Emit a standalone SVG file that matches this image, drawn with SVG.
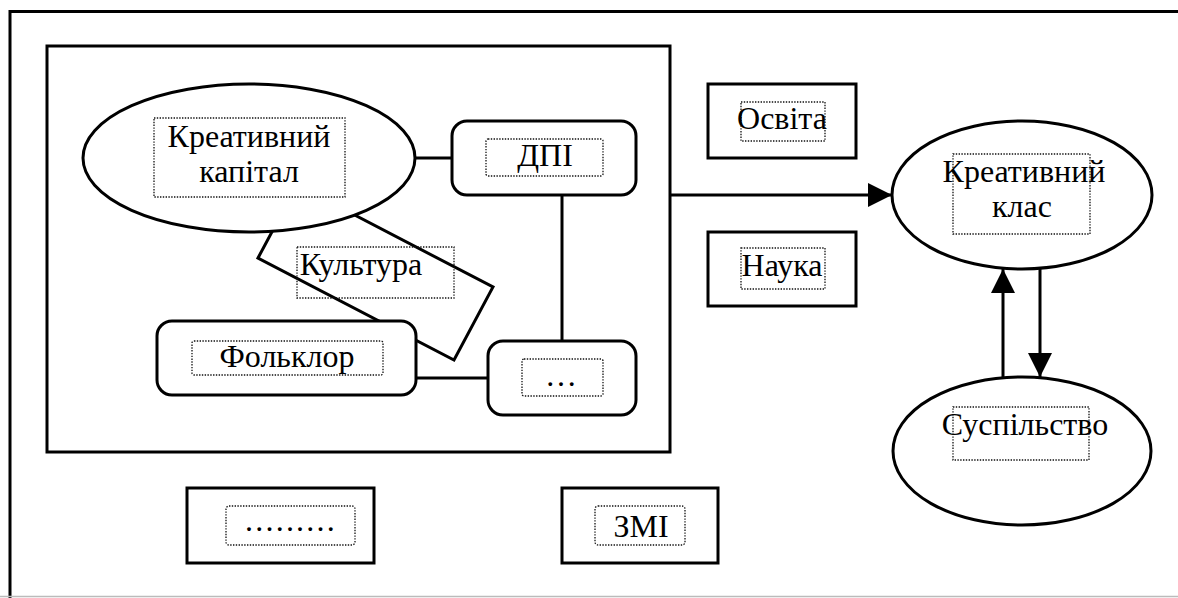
<svg xmlns="http://www.w3.org/2000/svg" width="1178" height="598" viewBox="0 0 1178 598">
<defs>
<style>
.frame{fill:none;stroke:#000;stroke-width:3}
.shape{fill:#fff;stroke:#000;stroke-width:3}
.dot{fill:none;stroke:#111;stroke-width:1.3;stroke-dasharray:1.4 1.4}
.con{fill:none;stroke:#000;stroke-width:3}
.t{font-family:"Liberation Serif","Times New Roman",serif;font-size:32px;fill:#000;text-anchor:middle}
</style>
<marker id="arr" markerUnits="userSpaceOnUse" markerWidth="24" markerHeight="24" viewBox="0 0 24 24" refX="24" refY="12" orient="auto">
<path d="M0,0 L24,12 L0,24 Z" fill="#000"/>
</marker>
</defs>
<rect width="1178" height="598" fill="#fff"/>
<g id="outer-frame">
<path class="frame" d="M10,598 V11.5 H1178"/>
<path d="M0,596.5 H1178" stroke="#bbb" stroke-width="1.5"/>
</g>
<g id="inner-frame">
<rect class="frame" x="47" y="46" width="623" height="406"/>
</g>
<g id="connectors">
<line class="con" x1="415" y1="158" x2="452" y2="158"/>
<line class="con" x1="562" y1="195" x2="562" y2="341"/>
<line class="con" x1="416" y1="378" x2="488" y2="378"/>
<line class="con" x1="670" y1="195" x2="892" y2="195" marker-end="url(#arr)"/>
<line class="con" x1="1003" y1="378" x2="1003" y2="269" marker-end="url(#arr)"/>
<line class="con" x1="1040" y1="269" x2="1040" y2="377" marker-end="url(#arr)"/>
</g>
<g id="kultura">
<polygon class="shape" points="258,258 297,185 493,287 454,360"/>
<rect class="dot" x="297" y="247" width="157" height="51"/>
<text class="t" font-family="Liberation Serif, serif" x="361" y="275">Культура</text>
</g>
<g id="kreatyvnyi-kapital">
<ellipse class="shape" cx="249" cy="158" rx="166" ry="74"/>
<rect class="dot" x="154" y="118" width="191" height="79"/>
<text class="t" font-family="Liberation Serif, serif" x="249" y="147">Креативний</text>
<text class="t" font-family="Liberation Serif, serif" x="249" y="182">капітал</text>
</g>
<g id="dpi">
<rect class="shape" x="452" y="121" width="184" height="74" rx="15"/>
<rect class="dot" x="486" y="139" width="117" height="37" rx="2"/>
<text class="t" font-family="Liberation Serif, serif" x="545" y="166">ДПІ</text>
</g>
<g id="folklor">
<rect class="shape" x="157" y="321" width="259" height="74" rx="15"/>
<rect class="dot" x="192" y="341" width="191" height="34" rx="2"/>
<text class="t" font-family="Liberation Serif, serif" x="287" y="367">Фольклор</text>
</g>
<g id="etc-inner">
<rect class="shape" x="488" y="341" width="148" height="74" rx="15"/>
<rect class="dot" x="522" y="359" width="81" height="37" rx="2"/>
<text class="t" font-family="Liberation Serif, serif" x="562" y="386" letter-spacing="2">…</text>
</g>
<g id="osvita">
<rect class="shape" x="708" y="84" width="148" height="74"/>
<rect class="dot" x="741" y="102" width="84" height="39"/>
<text class="t" font-family="Liberation Serif, serif" x="782" y="129">Освіта</text>
</g>
<g id="nauka">
<rect class="shape" x="708" y="232" width="148" height="74"/>
<rect class="dot" x="741" y="248" width="84" height="41"/>
<text class="t" font-family="Liberation Serif, serif" x="782" y="276">Наука</text>
</g>
<g id="kreatyvnyi-klas">
<ellipse class="shape" cx="1022" cy="195" rx="130" ry="74"/>
<rect class="dot" x="953" y="154" width="137" height="80"/>
<text class="t" font-family="Liberation Serif, serif" x="1024" y="182">Креативний</text>
<text class="t" font-family="Liberation Serif, serif" x="1022" y="217">клас</text>
</g>
<g id="suspilstvo">
<ellipse class="shape" cx="1022" cy="451" rx="129" ry="74"/>
<rect class="dot" x="953" y="407" width="136" height="53"/>
<text class="t" font-family="Liberation Serif, serif" x="1025" y="435">Суспільство</text>
</g>
<g id="etc-bottom">
<rect class="shape" x="187" y="488" width="187" height="75"/>
<rect class="dot" x="226" y="506" width="129" height="39" rx="3"/>
<text class="t" font-family="Liberation Serif, serif" x="291" y="531" letter-spacing="2.2">.........</text>
</g>
<g id="zmi">
<rect class="shape" x="562" y="488" width="156" height="75"/>
<rect class="dot" x="595" y="506" width="90" height="39" rx="3"/>
<text class="t" font-family="Liberation Serif, serif" x="641" y="537">ЗМІ</text>
</g>
</svg>
